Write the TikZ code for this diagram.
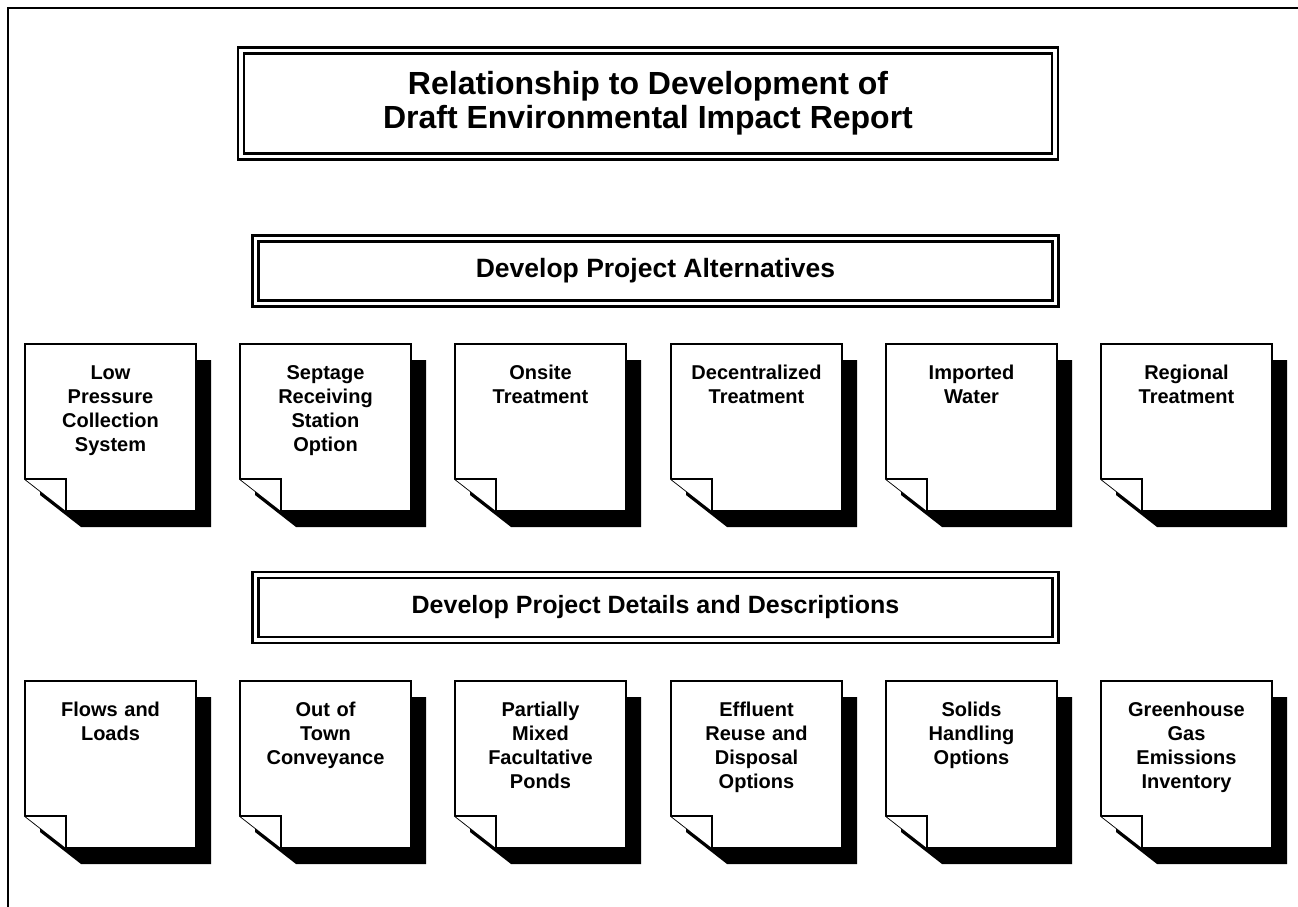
\documentclass[tikz,border=0pt]{standalone}
\usepackage{fontspec}
\setmainfont{Liberation Sans}

\begin{document}
\begin{tikzpicture}[x=1pt,y=-1pt]
  \tikzset{BoxStyle/.style = {
    shape           = rectangle,
    draw            = black,
    double          = white,
    double distance = 3.5pt,
    line width      = 2.5pt,
    fill            = white,
    text            = black,
    align           = center,
    inner sep       = 0pt,
    font            = \bfseries\fontsize{25}{30}\selectfont
    }
  }
  \tikzset{NoteStyle/.style = {
    draw       = black,
    fill       = white,
    line width = 1.8pt,
    line join  = miter
    }
  }
  \tikzset{ShadowStyle/.style = {
    fill = black
    }
  }
  \tikzset{NoteTextStyle/.style = {
    anchor     = base,
    align      = center,
    text width = 160pt,
    inner sep  = 0pt,
    text       = black,
    font       = \bfseries\fontsize{20}{24}\selectfont
    }
  }

  \useasboundingbox (0,0) rectangle (1298,907);
  \fill[white] (0,0) rectangle (1298,907);
  \draw[line width=2pt] (8,907) -- (8,8) -- (1298,8);

  \node[BoxStyle, minimum width=814pt, minimum height=106pt,
    font=\bfseries\fontsize{32}{34}\selectfont](title) at (648,103.5)
    {Relationship to Development of\\Draft Environmental Impact Report};
  \node[BoxStyle, minimum width=800pt, minimum height=65pt,
    font=\bfseries\fontsize{26.5}{30}\selectfont](alt) at (655.5,271)
    {Develop Project Alternatives};
  \node[BoxStyle, minimum width=800pt, minimum height=65pt](det) at (655.5,607.5)
    {Develop Project Details and Descriptions};

  % notes: left x / top y / name / text
  \foreach \nx/\ny/\nname/\ntext in {
      25/344/lpc/{Low\\Pressure\\Collection\\System},
      240/344/srs/{Septage\\Receiving\\Station\\Option},
      455/344/ons/{Onsite\\Treatment},
      671/344/dec/{Decentralized\\Treatment},
      886/344/imw/{Imported\\Water},
      1101/344/reg/{Regional\\Treatment},
      25/681/flw/{Flows and\\Loads},
      240/681/otc/{Out of\\Town\\Conveyance},
      455/681/pmf/{Partially\\Mixed\\Facultative\\Ponds},
      671/681/eff/{Effluent\\Reuse and\\Disposal\\Options},
      886/681/sol/{Solids\\Handling\\Options},
      1101/681/ghg/{Greenhouse\\Gas\\Emissions\\Inventory}} {
    \fill[ShadowStyle, shift={(\nx+15,\ny+16)}]
      (0,0) -- (171,0) -- (171,167) -- (41,167) -- (0,135) -- cycle;
    \draw[NoteStyle, shift={(\nx,\ny)}]
      (0,0) -- (171,0) -- (171,167) -- (41,167) -- (0,135) -- cycle;
    \draw[NoteStyle, shift={(\nx,\ny)}] (0,135) -- (41,135) -- (41,167);
    \node[NoteTextStyle](\nname) at (\nx+85.5,\ny+35) {\ntext};
  }

\end{tikzpicture}
\end{document}
